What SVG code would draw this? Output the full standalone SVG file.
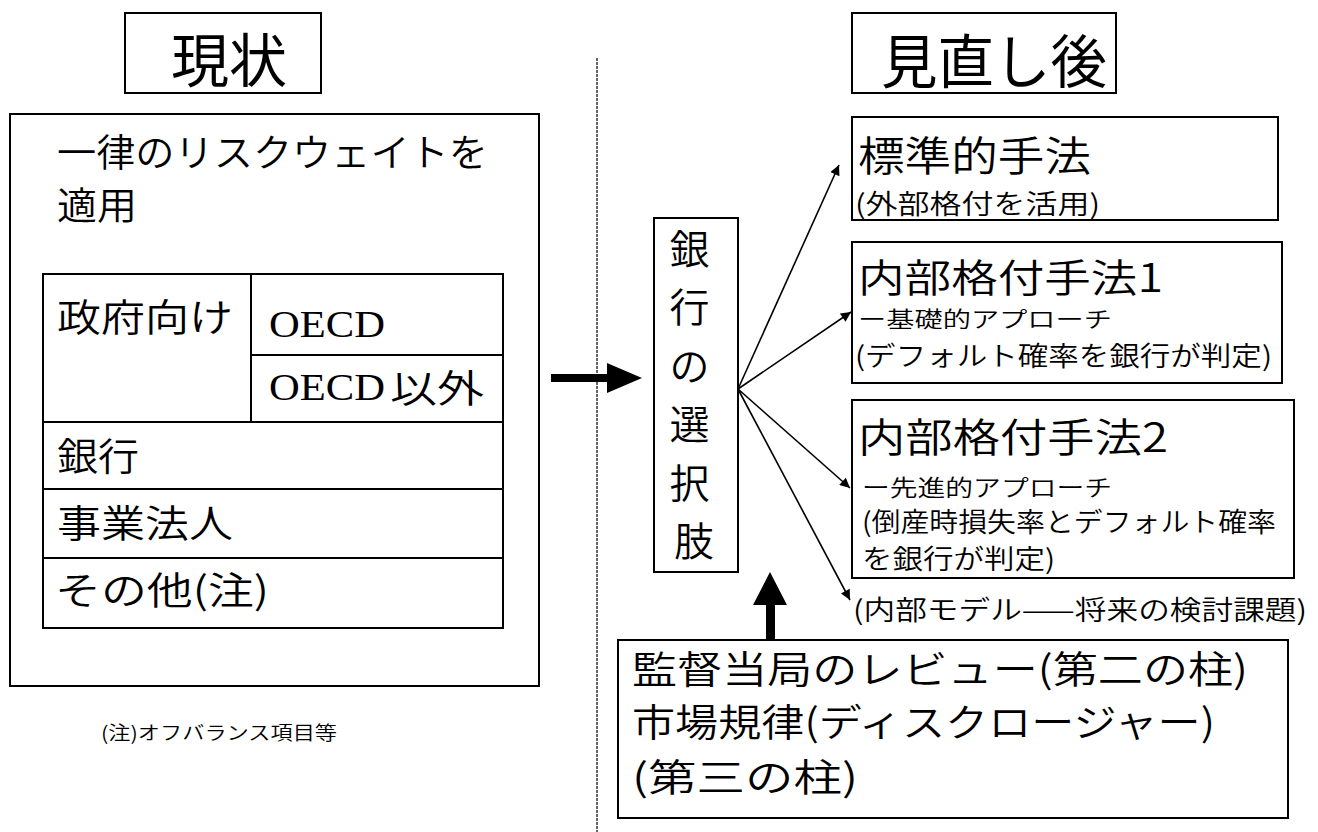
<svg xmlns="http://www.w3.org/2000/svg" width="1318" height="832" viewBox="0 0 1318 832">
<style>
  .box{fill:#fff;stroke:#000;stroke-width:2}
  .ln{stroke:#000;stroke-width:2;fill:none}
  .jp{font-family:"Noto Sans CJK JP","Noto Sans CJK SC",sans-serif;font-weight:350;fill:#000}
  .sf{font-family:"Liberation Serif",serif;fill:#000}
  .t1{font-size:58px;font-weight:400}
  .t2{font-size:38px}
  .conn{stroke:#000;stroke-width:1.6;fill:none;marker-end:url(#ah)}
</style>
<defs>
  <marker id="ah" viewBox="0 0 10 10" refX="10" refY="5" markerWidth="12" markerHeight="10" markerUnits="userSpaceOnUse" orient="auto">
    <path d="M0,0 L10,5 L0,10 z" fill="#000"/>
  </marker>
</defs>
<rect width="1318" height="832" fill="#fff"/>

<g id="divider">
  <line x1="597" y1="58" x2="597" y2="832" stroke="#000" stroke-width="1.2" stroke-dasharray="3,1"/>
</g>

<g id="title-current">
  <rect class="box" x="125" y="13" width="196" height="80"/>
  <text class="jp t1" x="229" y="82" text-anchor="middle">現状</text>
</g>

<g id="title-after">
  <rect class="box" x="852" y="13" width="264" height="80"/>
  <text class="jp t1" x="881" y="83" textLength="226" lengthAdjust="spacingAndGlyphs">見直し後</text>
</g>

<g id="current">
  <rect class="box" x="10" y="114" width="529" height="572"/>
  <text class="jp t2" x="57" y="166" textLength="431" lengthAdjust="spacingAndGlyphs">一律のリスクウェイトを</text>
  <text class="jp t2" x="57" y="219" textLength="80" lengthAdjust="spacingAndGlyphs">適用</text>
  <rect class="box" x="43" y="274" width="460" height="354"/>
  <line class="ln" x1="251" y1="274" x2="251" y2="422"/>
  <line class="ln" x1="251" y1="355" x2="503" y2="355"/>
  <line class="ln" x1="43" y1="422" x2="503" y2="422"/>
  <line class="ln" x1="43" y1="489" x2="503" y2="489"/>
  <line class="ln" x1="43" y1="558" x2="503" y2="558"/>
  <text class="jp t2" x="57" y="331" textLength="176" lengthAdjust="spacingAndGlyphs">政府向け</text>
  <text class="sf" x="269" y="337" font-size="38" textLength="116" lengthAdjust="spacingAndGlyphs">OECD</text>
  <text class="sf" x="269" y="400" font-size="38" textLength="116" lengthAdjust="spacingAndGlyphs">OECD</text>
  <text class="jp t2" x="390" y="402" textLength="94" lengthAdjust="spacingAndGlyphs">以外</text>
  <text class="jp t2" x="57" y="470" textLength="82" lengthAdjust="spacingAndGlyphs">銀行</text>
  <text class="jp t2" x="57" y="537" textLength="176" lengthAdjust="spacingAndGlyphs">事業法人</text>
  <text class="jp t2" x="55" y="604" textLength="214" lengthAdjust="spacingAndGlyphs">その他(注)</text>
</g>

<g id="footnote">
  <text class="jp" x="101" y="740" font-size="19" textLength="236" lengthAdjust="spacingAndGlyphs">(注)オフバランス項目等</text>
</g>

<g id="choice">
  <rect class="box" x="654" y="218" width="84" height="354"/>
  <text class="jp" font-size="40" text-anchor="middle">
    <tspan x="694" y="264">銀</tspan>
    <tspan x="694" y="322">行</tspan>
    <tspan x="694" y="381">の</tspan>
    <tspan x="694" y="439">選</tspan>
    <tspan x="694" y="498">択</tspan>
    <tspan x="694" y="556">肢</tspan>
  </text>
</g>

<g id="standard">
  <rect class="box" x="852" y="117" width="426" height="103"/>
  <text class="jp" x="858" y="171" font-size="41" textLength="233" lengthAdjust="spacingAndGlyphs">標準的手法</text>
  <text class="jp" x="855" y="214" font-size="27" textLength="245" lengthAdjust="spacingAndGlyphs">(外部格付を活用)</text>
</g>

<g id="irb1">
  <rect class="box" x="852" y="242" width="430" height="141"/>
  <text class="jp" x="858" y="292" font-size="39" textLength="305" lengthAdjust="spacingAndGlyphs">内部格付手法1</text>
  <text class="jp" x="858" y="327" font-size="22" textLength="254" lengthAdjust="spacingAndGlyphs">ー基礎的アプローチ</text>
  <text class="jp" x="855" y="366" font-size="27" textLength="417" lengthAdjust="spacingAndGlyphs">(デフォルト確率を銀行が判定)</text>
</g>

<g id="irb2">
  <rect class="box" x="852" y="400" width="442" height="178"/>
  <text class="jp" x="858" y="452" font-size="40" textLength="310" lengthAdjust="spacingAndGlyphs">内部格付手法2</text>
  <text class="jp" x="862" y="496" font-size="23" textLength="250" lengthAdjust="spacingAndGlyphs">ー先進的アプローチ</text>
  <text class="jp" x="862" y="532" font-size="27" textLength="414" lengthAdjust="spacingAndGlyphs">(倒産時損失率とデフォルト確率</text>
  <text class="jp" x="862" y="569" font-size="27" textLength="193" lengthAdjust="spacingAndGlyphs">を銀行が判定)</text>
</g>

<g id="internal-model">
  <text class="jp" x="853" y="620" font-size="27" textLength="454" lengthAdjust="spacingAndGlyphs">(内部モデル——将来の検討課題)</text>
</g>

<g id="review">
  <rect class="box" x="618" y="640" width="670" height="178"/>
  <text class="jp t2" x="632" y="683" textLength="616" lengthAdjust="spacingAndGlyphs">監督当局のレビュー(第二の柱)</text>
  <text class="jp t2" x="632" y="736" textLength="583" lengthAdjust="spacingAndGlyphs">市場規律(ディスクロージャー)</text>
  <text class="jp t2" x="632" y="791" textLength="226" lengthAdjust="spacingAndGlyphs">(第三の柱)</text>
</g>

<g id="connectors">
  <polygon points="551,374 607,374 607,363 642,378 607,393 607,382 551,382" fill="#000"/>
  <polygon points="766,640 766,605 753,605 770,572 787,605 775,605 775,640" fill="#000"/>
  <line class="conn" x1="738" y1="389" x2="839" y2="165"/>
  <line class="conn" x1="738" y1="389" x2="851" y2="312"/>
  <line class="conn" x1="738" y1="389" x2="850" y2="488"/>
  <line class="conn" x1="738" y1="389" x2="850" y2="600"/>
</g>
</svg>
